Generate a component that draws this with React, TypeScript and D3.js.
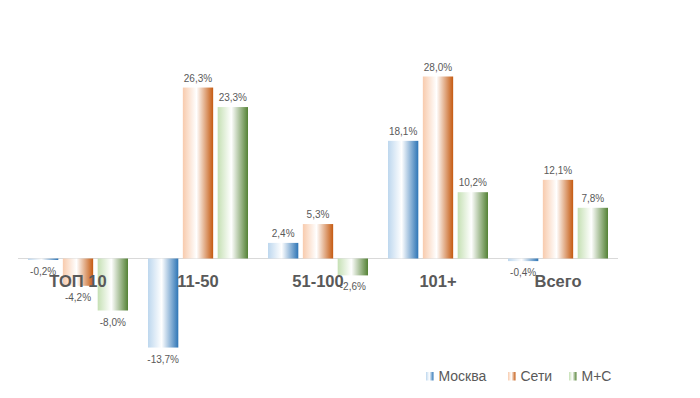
import React from "react";
import * as d3 from "d3";

const categories = ["ТОП 10", "11-50", "51-100", "101+", "Всего"];
const seriesNames = ["Москва", "Сети", "М+С"];
const moscow = [-0.2, -13.7, 2.4, 18.1, -0.4];
const chains = [-4.2, 26.3, 5.3, 28.0, 12.1];
const mc = [-8.0, 23.3, -2.6, 10.2, 7.8];
const seriesValues = [moscow, chains, mc];

const palettes = [
  { light: "#bdd7ee", dark: "#2e75b6" },
  { light: "#f8cbad", dark: "#c55a11" },
  { light: "#c5e0b4", dark: "#548235" },
];

const W = 700;
const H = 398;

const fmt = (v: number) => v.toFixed(1).replace(".", ",") + "%";

export default function App() {
  const x0 = d3.scaleBand<string>().domain(categories).range([18, 618]).paddingInner(1 / 6).paddingOuter(1 / 12);
  const x1 = d3.scaleBand<string>().domain(seriesNames).range([0, x0.bandwidth()]).paddingInner(0.13).paddingOuter(0);
  const y = d3.scaleLinear().domain([0, 28]).range([258.5, 76.5]);

  return (
    <svg width={W} height={H} style={{ position: "absolute", left: 0, top: 0, background: "#fff" }}>
      <defs>
        {palettes.map((p, i) => (
          <linearGradient key={i} id={`g${i}`} x1="0" x2="1" y1="0" y2="0">
            <stop offset="0" stopColor={p.light} />
            <stop offset="0.45" stopColor="#ffffff" />
            <stop offset="1" stopColor={p.dark} />
          </linearGradient>
        ))}
      </defs>
      <line x1={18} x2={618} y1={y(0)} y2={y(0)} stroke="#d9d9d9" strokeWidth={1} />
      {categories.map((c, ci) => (
        <g key={c}>
          {seriesNames.map((s, si) => {
            const v = seriesValues[si][ci];
            const bx = (x0(c) as number) + (x1(s) as number);
            const top = Math.min(y(v), y(0));
            const h = Math.abs(y(v) - y(0));
            const cx = bx + x1.bandwidth() / 2;
            return (
              <g key={s}>
                <rect x={bx} y={top} width={x1.bandwidth()} height={Math.max(h, 1.5)} fill={`url(#g${si})`} />
                <text
                  x={cx}
                  y={v >= 0 ? y(v) - 6 : y(v) + 15}
                  textAnchor="middle"
                  fontFamily="Liberation Sans, Arial, sans-serif"
                  fontSize={10}
                  fill="#595959"
                >
                  {fmt(v)}
                </text>
              </g>
            );
          })}
        </g>
      ))}
      {categories.map((c) => (
        <text
          key={c}
          x={(x0(c) as number) + x0.bandwidth() / 2}
          y={287}
          textAnchor="middle"
          fontFamily="Liberation Sans, Arial, sans-serif"
          fontWeight="bold"
          fontSize={16.5}
          fill="#595959"
        >
          {c}
        </text>
      ))}
      {seriesNames.map((s, i) => {
        const lx = [426, 508, 569][i];
        return (
          <g key={s}>
            <rect x={lx} y={372} width={7.5} height={8.5} fill={`url(#g${i})`} />
            <text x={lx + 12.5} y={381} fontFamily="Liberation Sans, Arial, sans-serif" fontSize={14} fill="#595959">
              {s}
            </text>
          </g>
        );
      })}
    </svg>
  );
}
